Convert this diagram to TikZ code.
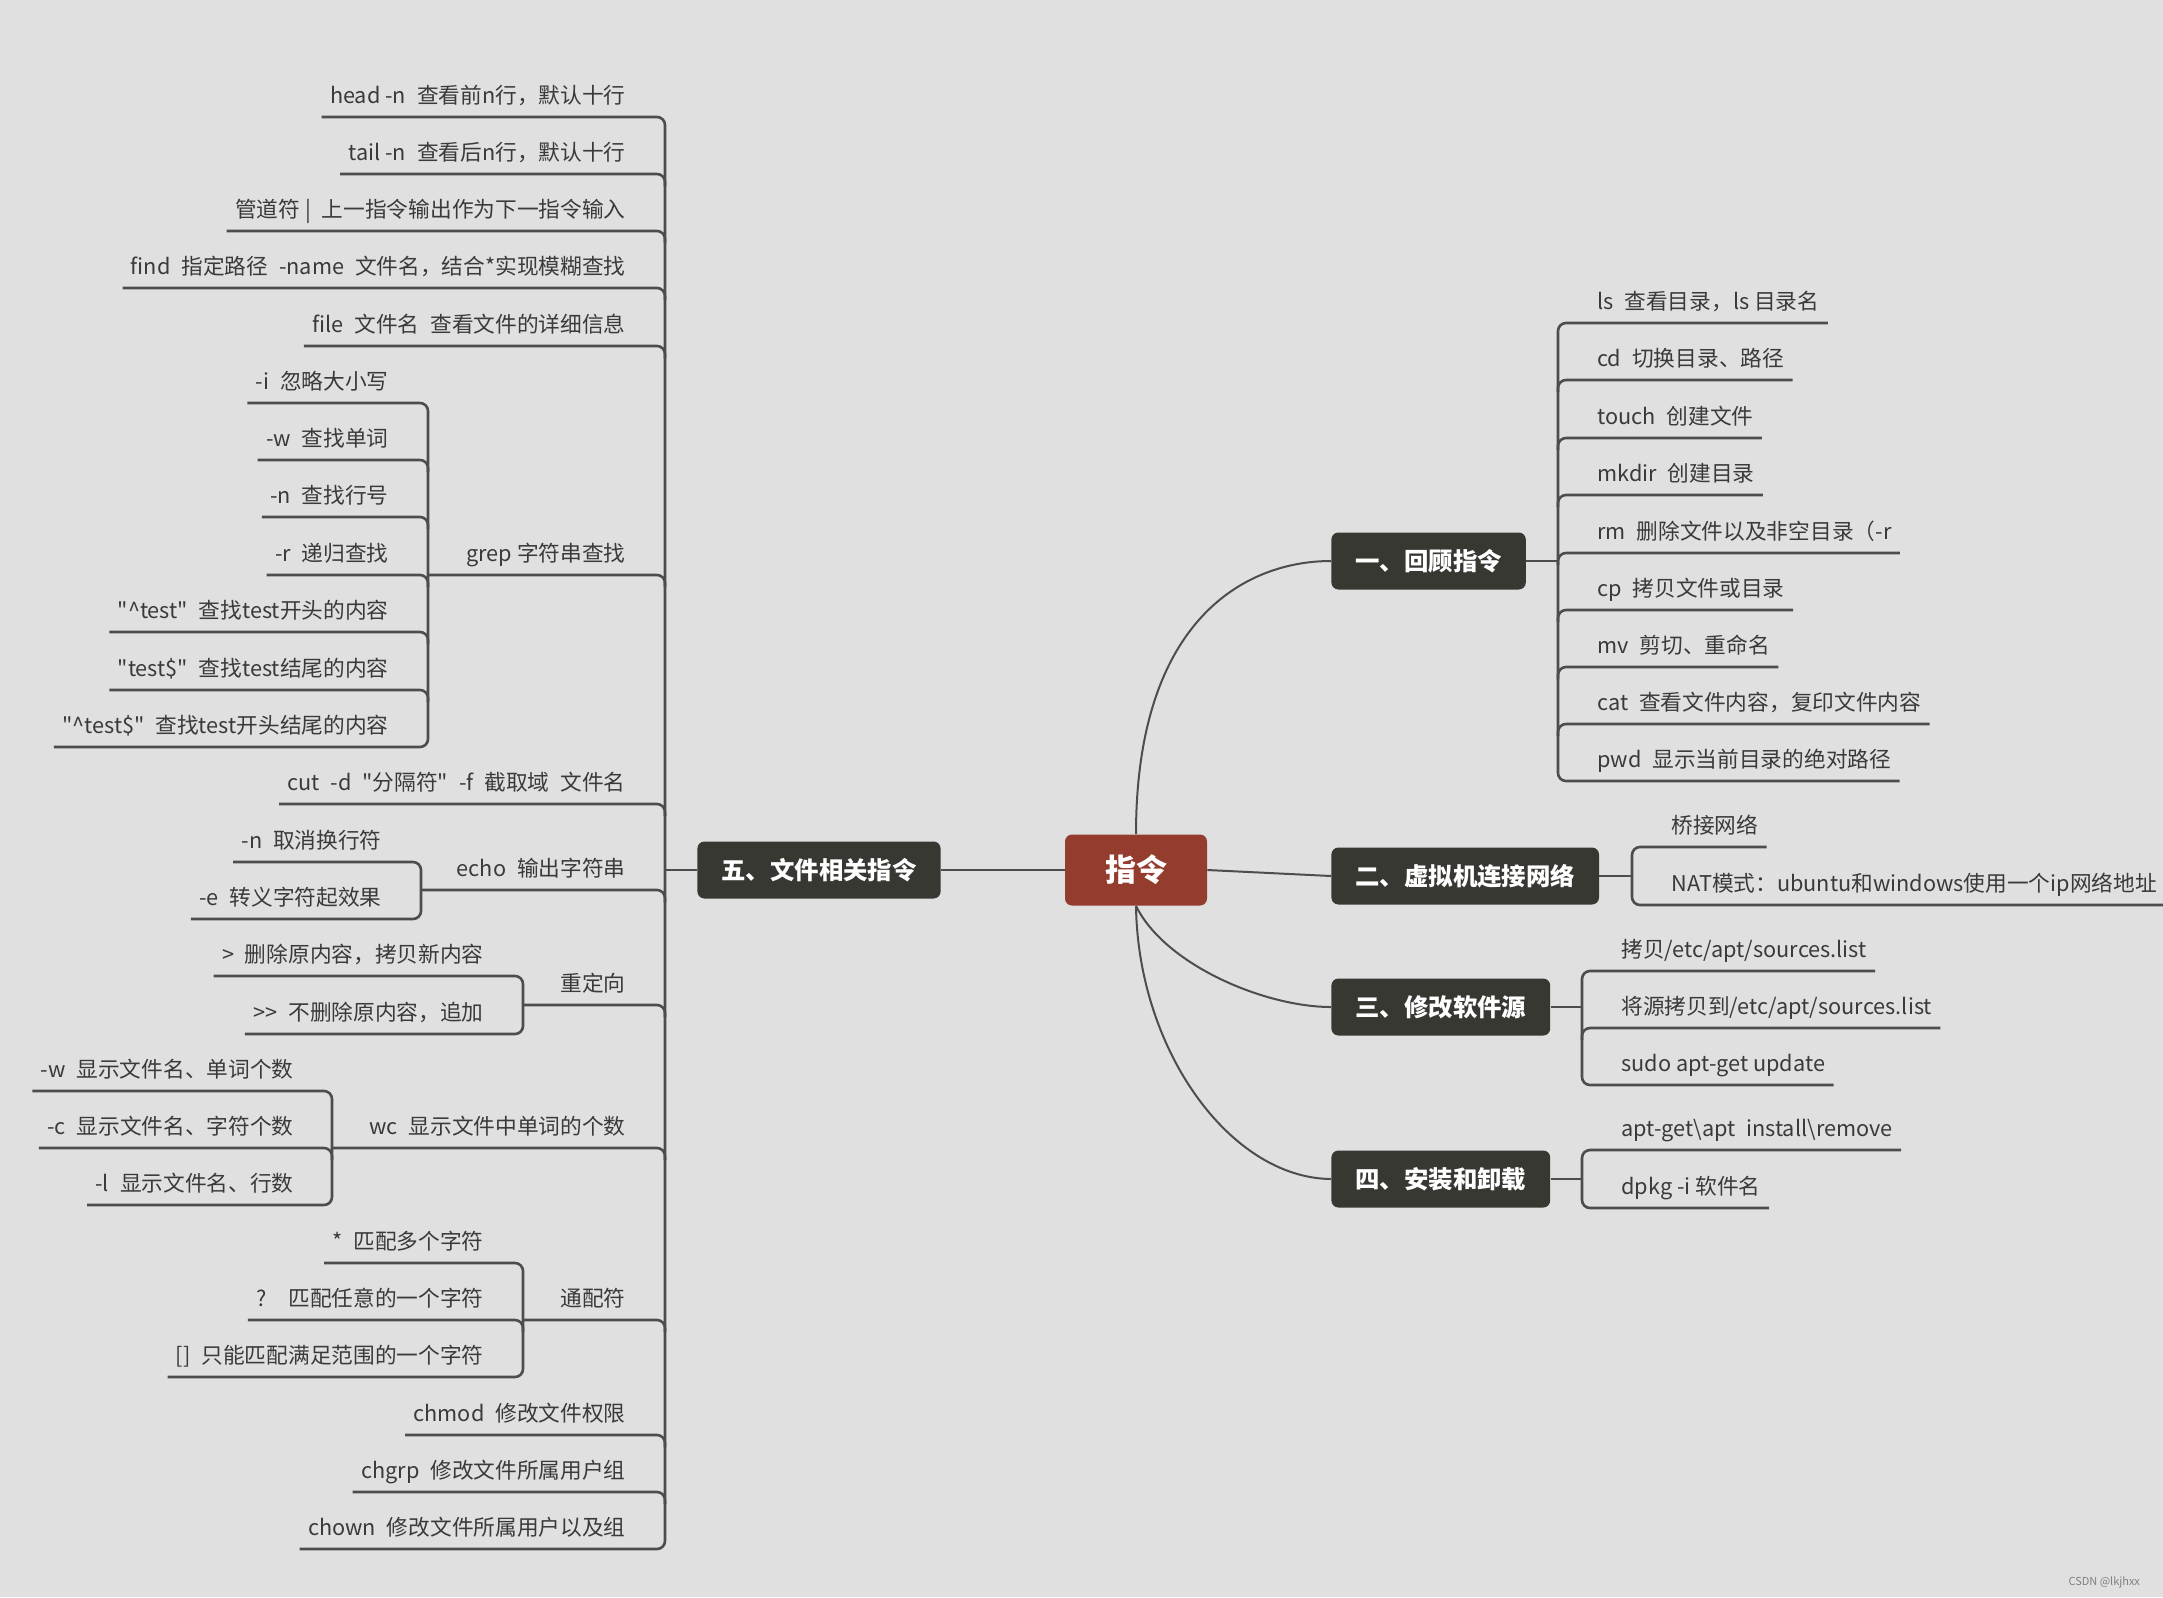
\documentclass[tikz,border=0pt]{standalone}
\usepackage{fontspec}
\setmainfont{Noto Sans CJK SC}[Ligatures=TeXOff]
\usetikzlibrary{calc}

\begin{document}
\begin{tikzpicture}[x=0.5pt, y=-0.5pt, every node/.style={font=\fontsize{10.85}{13}\selectfont, text=Ink},
  lleaf/.style={anchor=south east, inner xsep=4pt, inner ysep=3.6pt, text height=9.3pt, text depth=3.2pt},
  rleaf/.style={lleaf, anchor=south west},
  topic/.style={fill=Slate, text=white, rounded corners=3.5pt, minimum height=28.5pt, inner xsep=12pt, font=\fontsize{12.2}{14}\selectfont\bfseries},
  wire/.style={draw=Wire, line width=1.3pt, rounded corners=4pt},
  twig/.style={draw=Wire, line width=1pt}]
\definecolor{Canvas}{HTML}{E0E0E0}\definecolor{Slate}{HTML}{383833}\definecolor{Brick}{HTML}{943C2D}\definecolor{Wire}{HTML}{4D4D4D}\definecolor{Ink}{HTML}{3A3A3A}
\useasboundingbox (0,0) rectangle (2163,1597); \fill[Canvas] (0,0) rectangle (2163,1597);
% centre and main topics
\node[topic, fill=Brick, minimum width=71pt, minimum height=35.5pt, font=\fontsize{15.5}{18}\selectfont\bfseries] (root) at (1136,870) {指令};
\node[topic, anchor=west] (t1) at (1331,561) {一、回顾指令};
\node[topic, anchor=west] (t2) at (1331,876) {二、虚拟机连接网络};
\node[topic, anchor=west] (t3) at (1331,1007) {三、修改软件源};
\node[topic, anchor=west] (t4) at (1331,1179) {四、安装和卸载};
\node[topic, anchor=east] (t5) at (941,870) {五、文件相关指令};
\draw[twig] (root.north) .. controls (1136,620) and (1245,561) .. (t1.west);
\draw[twig] (root.east) -- (t2.west); \draw[twig] (root.west) -- (t5.east);
\draw[twig] (root.south) .. controls (1165,965) and (1265,1007) .. (t3.west);
\draw[twig] (root.south) .. controls (1138,1050) and (1230,1178) .. (t4.west);
% bracket columns
\coordinate (bL) at (665,870); \coordinate (gB) at (428,575); \coordinate (eB) at (421,890); \coordinate (dB) at (523,1005); \coordinate (wB) at (332,1148); \coordinate (pB) at (523,1320);
\coordinate (b1) at (1558,561); \coordinate (b2) at (1632,876); \coordinate (b3) at (1582,1007); \coordinate (b4) at (1582,1179);
% five: file commands
\node[lleaf] (h1) at (634,117) {head -n\enspace 查看前n行，默认十行};
\node[lleaf] (h2) at (634,174) {tail -n\enspace 查看后n行，默认十行};
\node[lleaf] (h3) at (634,231) {管道符 |\enspace 上一指令输出作为下一指令输入};
\node[lleaf] (h4) at (634,288) {find\enspace 指定路径\enspace -name\enspace 文件名，结合*实现模糊查找};
\node[lleaf] (h5) at (634,346) {file\enspace 文件名\enspace 查看文件的详细信息};
\node[lleaf] (h6) at (634,575) {grep 字符串查找};
\node[lleaf] (h7) at (634,804) {cut\enspace -d\enspace "分隔符"\enspace -f\enspace 截取域\enspace 文件名};
\node[lleaf] (h8) at (634,890) {echo\enspace 输出字符串};
\node[lleaf] (h9) at (634,1005) {重定向};
\node[lleaf] (h10) at (634,1148) {wc\enspace 显示文件中单词的个数};
\node[lleaf] (h11) at (634,1320) {通配符};
\node[lleaf] (h12) at (634,1435) {chmod\enspace 修改文件权限};
\node[lleaf] (h13) at (634,1492) {chgrp\enspace 修改文件所属用户组};
\node[lleaf] (h14) at (634,1549) {chown\enspace 修改文件所属用户以及组};
\node[lleaf] (g1) at (397,403) {-i\enspace 忽略大小写};
\node[lleaf] (g2) at (397,460) {-w\enspace 查找单词};
\node[lleaf] (g3) at (397,517) {-n\enspace 查找行号};
\node[lleaf] (g4) at (397,575) {-r\enspace 递归查找};
\node[lleaf] (g5) at (397,632) {"\textasciicircum test"\enspace 查找test开头的内容};
\node[lleaf] (g6) at (397,690) {"test\$"\enspace 查找test结尾的内容};
\node[lleaf] (g7) at (397,747) {"\textasciicircum test\$"\enspace 查找test开头结尾的内容};
\node[lleaf] (e1) at (390,862) {-n\enspace 取消换行符};
\node[lleaf] (e2) at (390,919) {-e\enspace 转义字符起效果};
\node[lleaf] (d1) at (492,976) {>\enspace 删除原内容，拷贝新内容};
\node[lleaf] (d2) at (492,1034) {>{}>\enspace 不删除原内容，追加};
\node[lleaf] (w1) at (302,1091) {-w\enspace 显示文件名、单词个数};
\node[lleaf] (w2) at (302,1148) {-c\enspace 显示文件名、字符个数};
\node[lleaf] (w3) at (302,1205) {-l\enspace 显示文件名、行数};
\node[lleaf] (p1) at (492,1263) {*\enspace 匹配多个字符};
\node[lleaf] (p2) at (492,1320) {?\quad 匹配任意的一个字符};
\node[lleaf] (p3) at (492,1377) {[]\enspace 只能匹配满足范围的一个字符};
\draw[wire] (t5.west) -- (t5.west -| bL);
\draw[wire] (h1.south west) -- (h1.south -| bL) -- (h14.south -| bL) -- (h14.south west);
\draw[wire] (h2.south west) -- (h2.south -| bL) -- ++(0,12); \draw[wire] (h3.south west) -- (h3.south -| bL) -- ++(0,12);
\draw[wire] (h4.south west) -- (h4.south -| bL) -- ++(0,12); \draw[wire] (h5.south west) -- (h5.south -| bL) -- ++(0,12);
\draw[wire] (gB |- h6.south) -- (h6.south -| bL) -- ++(0,12); \draw[wire] (h7.south west) -- (h7.south -| bL) -- ++(0,12);
\draw[wire] (eB |- h8.south) -- (h8.south -| bL) -- ++(0,12); \draw[wire] (dB |- h9.south) -- (h9.south -| bL) -- ++(0,12);
\draw[wire] (wB |- h10.south) -- (h10.south -| bL) -- ++(0,12); \draw[wire] (pB |- h11.south) -- (h11.south -| bL) -- ++(0,12);
\draw[wire] (h12.south west) -- (h12.south -| bL) -- ++(0,12); \draw[wire] (h13.south west) -- (h13.south -| bL) -- ++(0,12);
\draw[wire] (g1.south west) -- (g1.south -| gB) -- (g7.south -| gB) -- (g7.south west);
\draw[wire] (g2.south west) -- (g2.south -| gB) -- ++(0,12); \draw[wire] (g3.south west) -- (g3.south -| gB) -- ++(0,12);
\draw[wire] (g4.south west) -- (g4.south -| gB) -- ++(0,12); \draw[wire] (g5.south west) -- (g5.south -| gB) -- ++(0,12);
\draw[wire] (g6.south west) -- (g6.south -| gB) -- ++(0,12);
\draw[wire] (e1.south west) -- (e1.south -| eB) -- (e2.south -| eB) -- (e2.south west);
\draw[wire] (d1.south west) -- (d1.south -| dB) -- (d2.south -| dB) -- (d2.south west);
\draw[wire] (w1.south west) -- (w1.south -| wB) -- (w3.south -| wB) -- (w3.south west); \draw[wire] (w2.south west) -- (w2.south -| wB) -- ++(0,12);
\draw[wire] (p1.south west) -- (p1.south -| pB) -- (p3.south -| pB) -- (p3.south west); \draw[wire] (p2.south west) -- (p2.south -| pB) -- ++(0,12);
% one: review
\node[rleaf] (a1) at (1589,323) {ls\enspace 查看目录，ls 目录名};
\node[rleaf] (a2) at (1589,380) {cd\enspace 切换目录、路径};
\node[rleaf] (a3) at (1589,438) {touch\enspace 创建文件};
\node[rleaf] (a4) at (1589,495) {mkdir\enspace 创建目录};
\node[rleaf] (a5) at (1589,553) {rm\enspace 删除文件以及非空目录（-r};
\node[rleaf] (a6) at (1589,610) {cp\enspace 拷贝文件或目录};
\node[rleaf] (a7) at (1589,667) {mv\enspace 剪切、重命名};
\node[rleaf] (a8) at (1589,724) {cat\enspace 查看文件内容，复印文件内容};
\node[rleaf] (a9) at (1589,781) {pwd\enspace 显示当前目录的绝对路径};
\draw[wire] (t1.east) -- (t1.east -| b1);
\draw[wire] (a1.south east) -- (a1.south -| b1) -- (a9.south -| b1) -- (a9.south east);
\draw[wire] (a2.south east) -- (a2.south -| b1) -- ++(0,12); \draw[wire] (a3.south east) -- (a3.south -| b1) -- ++(0,12);
\draw[wire] (a4.south east) -- (a4.south -| b1) -- ++(0,12); \draw[wire] (a5.south east) -- (a5.south -| b1) -- ++(0,12);
\draw[wire] (a6.south east) -- (a6.south -| b1) -- ++(0,12); \draw[wire] (a7.south east) -- (a7.south -| b1) -- ++(0,12);
\draw[wire] (a8.south east) -- (a8.south -| b1) -- ++(0,12);
% two: network
\node[rleaf] (n1) at (1663,847) {桥接网络};
\node[rleaf] (n2) at (1663,905) {NAT模式：ubuntu和windows使用一个ip网络地址};
\draw[wire] (t2.east) -- (t2.east -| b2);
\draw[wire] (n1.south east) -- (n1.south -| b2) -- (n2.south -| b2) -- (n2.south east);
% three: sources
\node[rleaf] (s1) at (1613,971) {拷贝/etc/apt/sources.list};
\node[rleaf] (s2) at (1613,1028) {将源拷贝到/etc/apt/sources.list};
\node[rleaf] (s3) at (1613,1085) {sudo apt-get update};
\draw[wire] (t3.east) -- (t3.east -| b3);
\draw[wire] (s1.south east) -- (s1.south -| b3) -- (s3.south -| b3) -- (s3.south east); \draw[wire] (s2.south east) -- (s2.south -| b3) -- ++(0,12);
% four: install
\node[rleaf] (k1) at (1613,1150) {apt-get\textbackslash apt\enspace install\textbackslash remove};
\node[rleaf] (k2) at (1613,1208) {dpkg -i 软件名};
\draw[wire] (t4.east) -- (t4.east -| b4);
\draw[wire] (k1.south east) -- (k1.south -| b4) -- (k2.south -| b4) -- (k2.south east);
\node[anchor=east, font=\fontsize{5.5}{6}\selectfont, text=gray] (mark) at (2147,1582) {CSDN @lkjhxx};
\end{tikzpicture}
\end{document}
